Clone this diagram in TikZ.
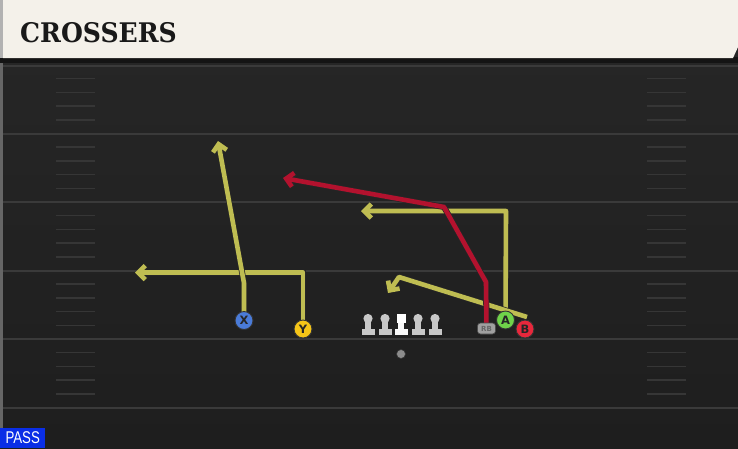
\documentclass[tikz,border=0pt]{standalone}
\usepackage{fontspec}
\setmainfont{DejaVu Sans}
\newfontfamily\titlefont{DejaVu Serif}
\newfontfamily\passfont{Liberation Sans}
\usetikzlibrary{arrows.meta}
\definecolor{fieldtop}{HTML}{272727}
\definecolor{fieldbot}{HTML}{1E1E1E}
\definecolor{yardc}{HTML}{3A3A3A}
\definecolor{hashc}{HTML}{363636}
\definecolor{cream}{HTML}{F4F1EA}
\definecolor{routey}{HTML}{BFBD52}
\definecolor{router}{HTML}{B3122E}
\definecolor{xblue}{HTML}{4A7BD8}
\definecolor{yyellow}{HTML}{F5C518}
\definecolor{agreen}{HTML}{6FD34A}
\definecolor{bred}{HTML}{E8283C}
\definecolor{rbgray}{HTML}{A0A0A0}
\definecolor{linegray}{HTML}{C8C8C8}
\definecolor{passblue}{HTML}{0A2EE6}
\pgfdeclarelayer{bg}\pgfdeclarelayer{routes}
\pgfsetlayers{bg,routes,main}
\begin{document}
\begin{tikzpicture}[x=1pt,y=-1pt,
  yard/.style={draw=yardc,line width=2pt},
  hashm/.style={draw=hashc,line width=1.5pt},
  route/.style={line width=4.6pt,line join=round,
    -{Straight Barb[length=7pt,width=14pt,line width=4.6pt]},
    preaction={draw=black!85,line width=6pt,
    -{Straight Barb[length=7pt,width=14pt,line width=6pt]}}},
  yroute/.style={route,draw=routey},
  rroute/.style={route,draw=router},
  player/.style={circle,minimum size=18pt,inner sep=0pt,draw=black!80,line width=0.9pt,
    font=\fontsize{11.5}{11.5}\selectfont\bfseries,text=black!85},
  lman/.style={fill=linegray},
]
\useasboundingbox (0,0) rectangle (738,448);
\begin{pgfonlayer}{bg}
\shade[top color=fieldtop,bottom color=fieldbot] (0,0) rectangle (738,448);
\fill[black!60] (0,59) rectangle (3,448);
\foreach \yy in {65.5,133.5,202,270.5,339,407.5}
  \draw[yard] (3,\yy) -- (738,\yy);
\foreach \base in {65,133.5,202,270.5,339}
  \foreach \k in {1,2,3,4}{
    \draw[hashm] (56,\base+13.7*\k) -- (95,\base+13.7*\k);
    \draw[hashm] (647,\base+13.7*\k) -- (686,\base+13.7*\k);
  }
% header
\fill[black!92] (0,57) rectangle (738,63);
\fill[cream] (3,0) -- (738,0) -- (738,47) -- (733,58) -- (3,58) -- cycle;
\fill[black!30] (0,0) rectangle (3,58);
\end{pgfonlayer}
\node[anchor=base west,inner sep=0pt,font=\titlefont\bfseries\fontsize{27}{27}\selectfont,text=black!90] (title) at (20,42) {\scalebox{0.93}[1]{CROSSERS}};
% pass label
\node[fill=passblue,anchor=south west,minimum width=45pt,minimum height=20pt,inner sep=0pt,
  text=white,font=\passfont\fontsize{17}{17}\selectfont] (pass) at (0,448) {\scalebox{0.78}[1]{PASS}};
% players
\node[player,fill=xblue] (X) at (244,320.5) {X};
\node[player,fill=yyellow] (Y) at (303,329) {Y};
\node[player,fill=agreen] (A) at (505.5,320) {A};
\node[player,fill=bred] (B) at (525,329) {B};
\node[rounded corners=3pt,fill=rbgray,draw=black!70,line width=0.6pt,minimum width=18pt,minimum height=11pt,inner sep=0pt,
  font=\fontsize{7}{7}\selectfont\bfseries,text=black!60] (RB) at (486.5,328.5) {RB};
% ball
\node[circle,fill=black!45,draw=black!80,line width=0.6pt,minimum size=9pt,inner sep=0pt] (ball) at (401,354) {};
% linemen
\foreach \lx in {368,385,418,435}{
  \fill[lman] (\lx-6.5,328.5) rectangle (\lx+6.5,335);
  \fill[lman] (\lx-2.8,318) rectangle (\lx+2.8,330);
  \fill[lman] (\lx,318.5) circle (4.6);
}
\fill[white!90!linegray] (401-6.5,328.5) rectangle (401+6.5,335);
\fill[white!90!linegray] (401-2.8,320) rectangle (401+2.8,330);
\fill[white] (396.5,314) rectangle (405.5,323);
% route coordinates
\coordinate (xturn) at (244,283);
\coordinate (xend) at (218,141);
\coordinate (yturn) at (303,272.5);
\coordinate (yend) at (135,272.5);
\coordinate (aturn) at (506,211);
\coordinate (aend) at (361,211);
\coordinate (bstart) at (527,317);
\coordinate (bturn) at (399,277);
\coordinate (bend) at (388,293);
\coordinate (rbturn1) at (486,282);
\coordinate (rbturn2) at (444,207);
\coordinate (rbend) at (283,178);
\begin{pgfonlayer}{routes}
\draw[yroute] (Y.center) -- (yturn) -- (yend);
\draw[yroute] (X.center) -- (xturn) -- (xend);
\draw[yroute] (A.center) -- (aturn) -- (aend);
\draw[yroute] (bstart) -- (bturn) -- (bend);
\draw[rroute] (RB.center) -- (rbturn1) -- (rbturn2) -- (rbend);
\end{pgfonlayer}
\end{tikzpicture}
\end{document}
